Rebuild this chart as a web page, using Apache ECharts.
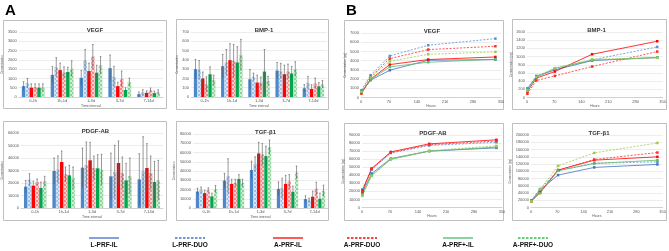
<!DOCTYPE html>
<html><head><meta charset="utf-8">
<script src="https://cdn.jsdelivr.net/npm/echarts@6/dist/echarts.min.js"></script>
<style>html,body{margin:0;padding:0;background:#fff}#c{width:669px;height:251px}</style>
</head><body><div id="c"></div>
<script>
// ---------- data ----------
const groups = ['L-PRF-IL','L-PRF-DUO','A-PRF-IL','A-PRF-DUO','A-PRF+-IL','A-PRF+-DUO'];
const intervals = ['0-1h','1h-1d','1-3d','3-7d','7-14d'];
const hours = [1, 24, 72, 168, 336];

const vegfMeans = [[586,1190,1034,1552,155],[740,1603,1966,1086,241],[500,1448,1397,586,224],[535,1310,2172,966,362],[500,1345,1310,380,207],[500,1517,1707,793,259]];
const vegfErr   = [[241,448,400,707,120],[259,517,586,570,150],[207,380,430,207,110],[172,310,655,431,120],[207,260,400,120,110],[207,431,466,224,130]];
const bmpMeans  = [[300,332,191,285,94],[292,372,217,278,152],[199,397,155,245,87],[137,386,155,274,144],[245,372,274,253,115],[180,451,173,300,137]];
const bmpErr    = [[104,126,105,87,40],[100,140,40,85,70],[70,177,80,97,45],[80,180,60,80,60],[80,170,238,75,40],[55,170,50,80,40]];
const pdgfMeans = [[17067,29600,32267,25333,22933],[22667,30667,34400,28800,29333],[17867,36800,38133,36000,32000],[20800,26933,32000,28000,28000],[16000,26133,31733,22133,20800],[21333,24000,30667,25600,22133]];
const pdgfErr   = [[5000,10400,15700,18600,20500],[4800,11000,18400,21300,27700],[3700,8800,14400,17600,19500],[2400,5900,9600,12800,13600],[4800,8000,10900,13600,16500],[4000,8800,12300,14400,16000]];
const tgfMeans  = [[17857,29643,41071,20714,9643],[19643,34286,47500,21429,8214],[16071,26071,58929,26071,12143],[19286,27143,57857,28571,20714],[12500,31429,56071,17500,10000],[20357,27143,65714,38214,18571]];
const tgfErr    = [[3500,7800,9600,7500,3600],[3000,19000,7800,10700,2500],[3000,5000,12100,9300,6100],[2500,4000,11800,7500,7100],[3500,4600,10700,6100,6100],[4000,4000,7800,7100,6100]];

const vegfCum = [[610,1880,2960,4040,4120],[790,2420,4510,5670,6390],[430,1990,3570,4120,4400],[600,2240,4220,5200,5560],[610,1950,3320,3830,4150],[610,2170,3930,4690,4950]];
const bmpCum  = [[204,512,674,902,976],[228,528,690,918,1236],[146,472,634,1056,1374],[90,414,528,756,1122],[186,496,716,910,976],[170,496,716,934,968]];
const pdgfCum = [[18400,42200,60700,70000,74000],[22500,47100,67600,77000,81000],[20900,48400,69000,79000,84000],[19700,47700,68000,78000,82500],[15600,40000,59800,70000,75000],[14300,39000,59800,70500,76500]];
const tgfCum  = [[19000,48400,89400,110600,118800],[20000,51200,102000,122000,126000],[18000,42000,103200,130600,139800],[17000,40000,103200,132400,151600],[18000,40000,101400,121400,130600],[17000,50000,115000,150600,178000]];

// ---------- styling ----------
const FONT = 'Liberation Sans';
const barColors = ['#4F88C9','#9CC0E8','#FF0000','#F28B8B','#00A950','#8FD39A'];
const patterned = [false,true,false,true,false,true];
const lineColors = ['#4472C4','#5B8FD8','#FF0000','#FF2A2A','#5DBB63','#9ACD4A'];
const dashed = [false,true,false,true,false,true];
const checker = {symbol:'rect', symbolSize:1, color:'rgba(255,255,255,0.6)', dashArrayX:[[2,2],[0,2,2,0]], dashArrayY:[2,0], rotation:0};

const barPanels = [
  {title:'VEGF', means:vegfMeans, err:vegfErr, max:3500, step:500, grid:{left:17,top:32,width:146,height:65}, box:[3,20,163,88]},
  {title:'BMP-1', means:bmpMeans, err:bmpErr, max:700, step:100, grid:{left:191,top:32,width:136,height:65}, box:[176,19,152,90]},
  {title:'PDGF-AB', means:pdgfMeans, err:pdgfErr, max:60000, step:10000, grid:{left:18,top:133,width:145,height:75}, box:[3,121,163,99]},
  {title:'TGF-β1', means:tgfMeans, err:tgfErr, max:80000, step:10000, grid:{left:193,top:134,width:135,height:74}, box:[176,121,152,99]}
];
const linePanels = [
  {title:'VEGF', cum:vegfCum, max:7000, step:1000, grid:{left:361,top:33,width:140,height:64.5}, box:[344,20,159,89]},
  {title:'BMP-1', cum:bmpCum, max:1600, step:200, grid:{left:527,top:32,width:137,height:65.5}, box:[512,19,154,90]},
  {title:'PDGF-AB', cum:pdgfCum, max:90000, step:10000, grid:{left:362,top:135,width:140,height:72.5}, box:[344,123,159,97]},
  {title:'TGF-β1', cum:tgfCum, max:200000, step:20000, grid:{left:531,top:135,width:134,height:72.5}, box:[512,123,154,97]}
];

const grid=[], xAxis=[], yAxis=[], series=[], title=[], graphic=[];
const plain = v => String(v);
const axisLabel = {fontSize:4, color:'#595959', fontFamily:FONT, margin:2};
const yLabel = {fontSize:4, color:'#595959', fontFamily:FONT, margin:2, formatter:plain};
const splitLine = {show:true, lineStyle:{color:'#D9D9D9', width:0.5}};

function errRender(params, api){
  const cat = api.value(0), s = api.value(1), m = api.value(2), e = api.value(3);
  const band = api.size([1,0])[0];
  const gap = 0.1;
  const bw = band*0.79/(6+5*gap);
  const c = api.coord([cat, m]);
  const x = c[0] - band*0.395 + bw/2 + s*bw*(1+gap);
  const hi = api.coord([cat, m+e])[1];
  const lo = api.coord([cat, Math.max(0, m-e)])[1];
  const st = {stroke:'#555', lineWidth:0.6};
  return {type:'group', children:[
    {type:'line', shape:{x1:x,y1:hi,x2:x,y2:lo}, style:st},
    {type:'line', shape:{x1:x-0.8,y1:hi,x2:x+0.8,y2:hi}, style:st}
  ]};
}

function addBox(b){
  graphic.push({type:'rect', shape:{x:b[0]+0.5,y:b[1]+0.5,width:b[2],height:b[3]}, style:{fill:null, stroke:'#BFBFBF', lineWidth:1}, z:-1});
}

barPanels.forEach((p, k) => {
  const gi = grid.length;
  grid.push(p.grid);
  xAxis.push({gridIndex:gi, type:'category', data:intervals, axisTick:{show:false},
    axisLine:{lineStyle:{color:'#BFBFBF', width:0.6}}, axisLabel:axisLabel,
    name:'Time interval', nameLocation:'middle', nameGap:7, nameTextStyle:{fontSize:3.5, color:'#595959', fontFamily:FONT}});
  yAxis.push({gridIndex:gi, type:'value', min:0, max:p.max, interval:p.step, axisLabel:yLabel, splitLine:splitLine,
    axisLine:{show:false}, axisTick:{show:false},
    name:'Concentration', nameLocation:'middle', nameRotate:90, nameGap:11, nameTextStyle:{fontSize:3, color:'#595959', fontFamily:FONT}});
  const c = p.grid.left + p.grid.width/2;
  title.push({text:p.title, left:c, top:p.grid.top-10, textAlign:'center', textStyle:{fontSize:6, fontWeight:'bold', color:'#333', fontFamily:FONT}});
  addBox(p.box);
  const errData = [];
  p.means.forEach((arr, s) => {
    const item = {color:barColors[s]};
    if (patterned[s]) item.decal = checker;
    const ser = {type:'bar', name:groups[s], xAxisIndex:gi, yAxisIndex:gi, data:arr, itemStyle:item,
      barGap:'10%', barCategoryGap:'21%', silent:true, animation:false};
    if (k===3 && s===3) {
      ser.markPoint = {symbol:'none', silent:true, data:[{coord:[4, 36500], label:{show:true, formatter:'*', fontSize:6, color:'#333', position:'inside'}}]};
    }
    series.push(ser);
    arr.forEach((m, i) => errData.push([i, s, m, p.err[s][i]]));
  });
  series.push({type:'custom', xAxisIndex:gi, yAxisIndex:gi, renderItem:errRender, data:errData, z:5, silent:true, animation:false, encode:{x:0, y:2}});
});

linePanels.forEach((p) => {
  const gi = grid.length;
  grid.push(p.grid);
  xAxis.push({gridIndex:gi, type:'value', min:0, max:350, interval:70, axisTick:{show:false},
    axisLine:{lineStyle:{color:'#BFBFBF', width:0.6}}, axisLabel:axisLabel, splitLine:{show:false},
    name:'Hours', nameLocation:'middle', nameGap:7, nameTextStyle:{fontSize:3.5, color:'#595959', fontFamily:FONT}});
  yAxis.push({gridIndex:gi, type:'value', min:0, max:p.max, interval:p.step, axisLabel:yLabel, splitLine:splitLine,
    axisLine:{show:false}, axisTick:{show:false},
    name:'Concentration (pg)', nameLocation:'middle', nameRotate:90, nameGap:14, nameTextStyle:{fontSize:3, color:'#595959', fontFamily:FONT}});
  const c = p.grid.left + p.grid.width/2 - 4;
  title.push({text:p.title, left:c, top:p.grid.top-10, textAlign:'center', textStyle:{fontSize:6, fontWeight:'bold', color:'#333', fontFamily:FONT}});
  addBox(p.box);
  p.cum.forEach((arr, s) => {
    series.push({type:'line', name:groups[s], xAxisIndex:gi, yAxisIndex:gi,
      data:arr.map((v,i)=>[hours[i], v]), symbol:'rect', symbolSize:2.5,
      lineStyle:{color:lineColors[s], width:0.8, type:dashed[s]?[2,1.5]:'solid'},
      itemStyle:{color:lineColors[s]}, silent:true, animation:false});
  });
});

// panel letters
graphic.push({type:'text', left:5, top:3, style:{text:'A', font:'bold 15px "Liberation Sans"', fill:'#000'}});
graphic.push({type:'text', left:346, top:3, style:{text:'B', font:'bold 15px "Liberation Sans"', fill:'#000'}});

// legend
const legendX = [104, 190, 288, 362, 458, 533];
const legendLine = ['#4472C4','#4472C4','#FF0000','#FF0000','#4CBB6C','#2FC24A'];
groups.forEach((g, i) => {
  const x = legendX[i];
  graphic.push({type:'line', shape:{x1:x-15, y1:238, x2:x+15, y2:238},
    style:{stroke:legendLine[i], lineWidth:1.3, lineDash: dashed[i]?[2.5,1.5]:null}});
  graphic.push({type:'text', x:x, y:242, style:{text:g, font:'bold 6.5px "Liberation Sans"', fill:'#111', textAlign:'center', textVerticalAlign:'top'}});
});

const chart = echarts.init(document.getElementById('c'), null, {renderer:'canvas'});
chart.setOption({animation:false, backgroundColor:'#fff', title, grid, xAxis, yAxis, series, graphic});
</script></body></html>
